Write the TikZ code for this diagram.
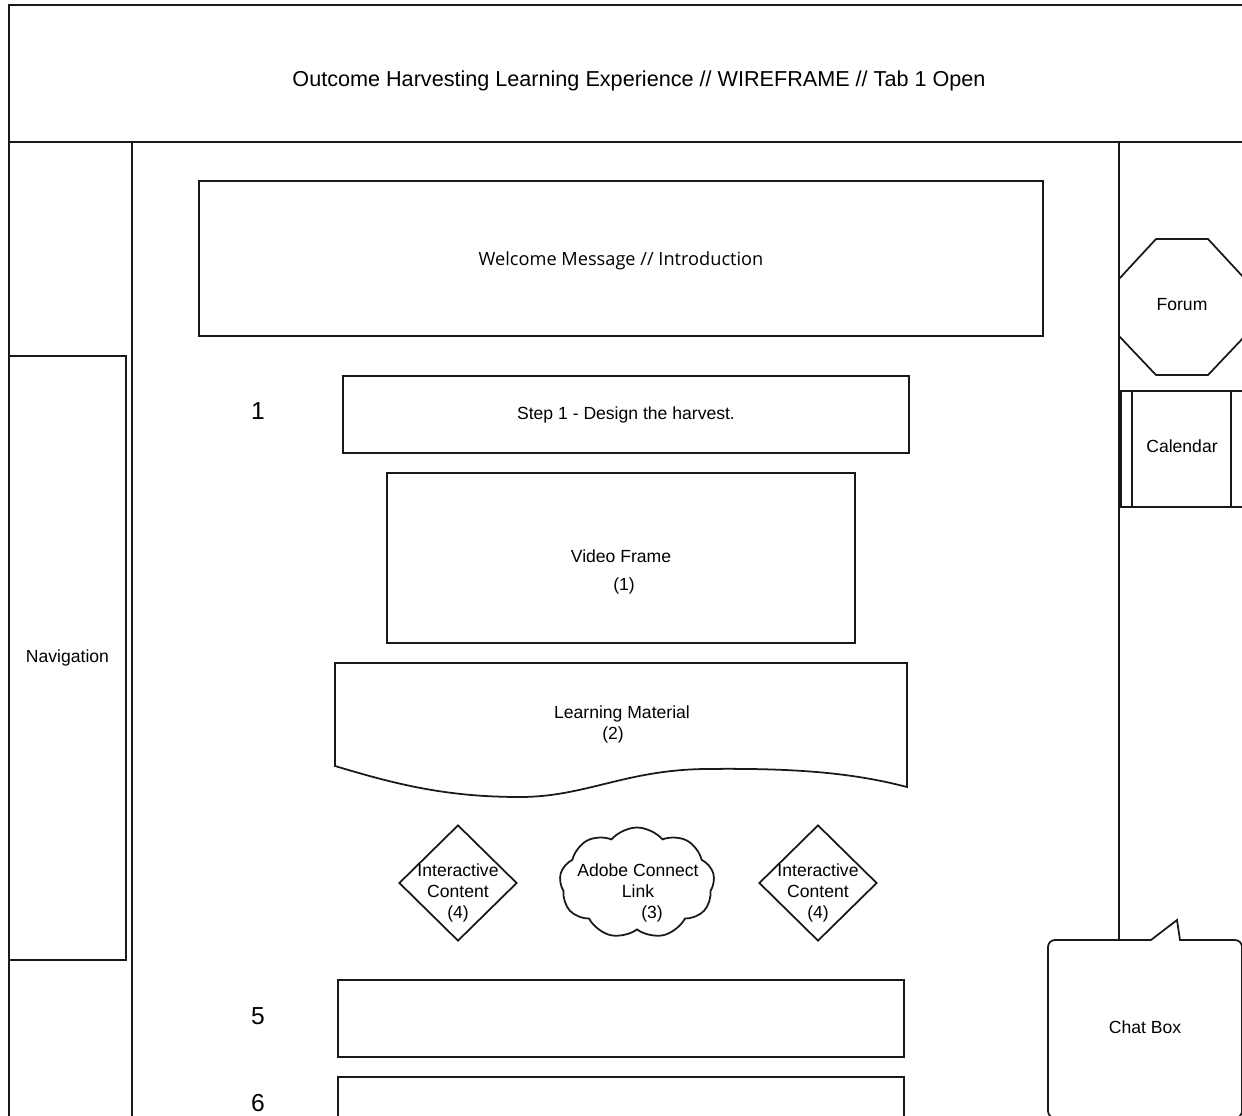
\documentclass[tikz,border=0pt]{standalone}
\usepackage{fontspec}
\setmainfont{Liberation Sans}
\newfontfamily\opensans{Open Sans}
\usetikzlibrary{positioning, shapes.geometric, shapes.symbols}

\tikzset{
    frame/.style={draw=black!90, line width=1pt},
    box/.style={frame, rectangle, inner sep=0pt, font=\fontsize{10}{12}\selectfont},
    txt/.style={align=center, inner sep=0pt, font=\fontsize{10}{12}\selectfont},
    num/.style={inner sep=0pt, font=\fontsize{14}{16}\selectfont},
    choice/.style={frame, diamond, aspect=1, inner sep=0pt, minimum width=2.36cm, minimum height=2.32cm},
    puff/.style={frame, cloud, cloud puffs=9, cloud puff arc=100, aspect=1.4, inner sep=0pt, minimum width=3.1cm, minimum height=2.22cm}
}

\begin{document}
\begin{tikzpicture}[x=0.02cm, y=-0.02cm]
            \useasboundingbox (0,0) rectangle (1242,1116);
            \clip (0,0) rectangle (1242,1116);

            % header and columns
            \node[box, minimum width=25.16cm, minimum height=2.74cm] (header) at (638,73.5) {};
            \node[txt, font=\fontsize{12.3}{14}\selectfont] (title) at (639,81)
                {Outcome Harvesting Learning Experience // WIREFRAME // Tab 1 Open};
            \node[box, minimum width=2.46cm, minimum height=19.76cm] (leftcol) at (70.5,636) {};
            \coordinate (rtop) at (1119,142);
            \coordinate (rbot) at (1119,940);
            \draw[frame] (rtop) -- (rbot);

            \node[box, minimum width=2.34cm, minimum height=12.08cm] (nav) at (67.5,658) {Navigation};

            % main column
            \node[box, minimum width=16.88cm, minimum height=3.1cm] (welcome) at (621,258.5) {};
            \node[txt, font=\opensans\fontsize{10.35}{12}\selectfont] at (621,261) {Welcome Message // Introduction};
            \node[num] (n1) at (258,411) {1};
            \node[box, minimum width=11.32cm, minimum height=1.54cm] (step1) at (626,414.5) {Step 1 - Design the harvest.};
            \node[box, minimum width=9.36cm, minimum height=3.4cm] (video) at (621,558) {};
            \node[txt] at (621,572) {Video Frame\\[4pt]\hspace*{0.12cm}(1)};

            % learning material (document shape)
            \draw[frame] (335,663) -- (907,663) -- (907,787)
                .. controls (850,772) and (790,768) .. (705,769)
                .. controls (625,770) and (585,797) .. (520,797)
                .. controls (445,797) and (395,784) .. (335,766) -- cycle;
            \node[txt] (material) at (622,724) {Learning Material\\(2)\hspace*{0.36cm}};

            \node[choice] (ic1) at (458,883) {};
            \node[txt] at (458,893) {Interactive\\Content\\(4)};
            \node[puff] (adobe) at (637,883) {};
            \node[txt] at (638,893) {Adobe Connect\\Link\\\hspace*{0.56cm}(3)};
            \node[choice] (ic2) at (818,883) {};
            \node[txt] at (818,893) {Interactive\\Content\\(4)};

            \node[num] (n5) at (258,1016) {5};
            \node[box, minimum width=11.32cm, minimum height=1.54cm] (box5) at (621,1018.5) {};
            \node[num] (n6) at (258,1103) {6};
            \node[box, minimum width=11.32cm, minimum height=1.54cm] (box6) at (621,1115.5) {};

            % right column
            \draw[frame] (1156,239) -- (1208,239) -- (1245,279) -- (1245,336) -- (1208,375)
                -- (1156,375) -- (1119,336) -- (1119,279) -- cycle;
            \node[txt] (forum) at (1182,305) {Forum};

            \node[box, minimum width=2.44cm, minimum height=2.32cm] (calendar) at (1182,449) {};
            \node[txt] at (1182,446) {Calendar};
            \draw[frame] ([xshift=0.24cm]calendar.north west) -- ([xshift=0.24cm]calendar.south west);
            \draw[frame] ([xshift=-0.26cm]calendar.north east) -- ([xshift=-0.26cm]calendar.south east);

            \draw[frame] (1151,940) -- (1177,920) -- (1180,940) [rounded corners=4pt] -- (1242,940)
                -- (1242,1118) -- (1048,1118) -- (1048,940) -- (1151,940);
            \node[txt] (chat) at (1145,1027) {Chat Box};
        \end{tikzpicture}
\end{document}
